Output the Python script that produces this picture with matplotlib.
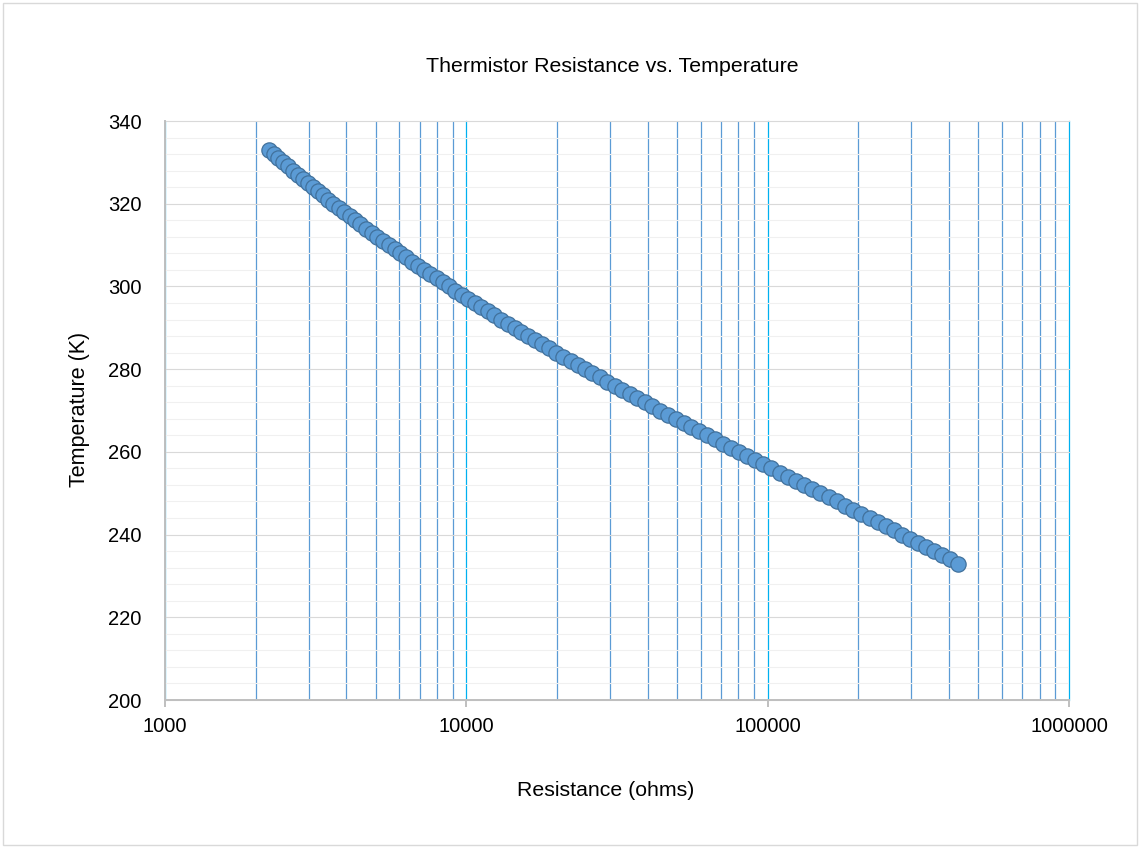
import matplotlib
matplotlib.use("Agg")
import matplotlib.pyplot as plt
from matplotlib.patches import Rectangle
from matplotlib.ticker import FixedLocator, FixedFormatter, MultipleLocator, LogLocator, NullFormatter

# data (ordered as drawn: hot -> cold)
temperature_k = [
    333, 332, 331, 330, 329, 328, 327, 326, 325, 324,
    323, 322, 321, 320, 319, 318, 317, 316, 315, 314,
    313, 312, 311, 310, 309, 308, 307, 306, 305, 304,
    303, 302, 301, 300, 299, 298, 297, 296, 295, 294,
    293, 292, 291, 290, 289, 288, 287, 286, 285, 284,
    283, 282, 281, 280, 279, 278, 277, 276, 275, 274,
    273, 272, 271, 270, 269, 268, 267, 266, 265, 264,
    263, 262, 261, 260, 259, 258, 257, 256, 255, 254,
    253, 252, 251, 250, 249, 248, 247, 246, 245, 244,
    243, 242, 241, 240, 239, 238, 237, 236, 235, 234,
    233,
]
resistance_ohms = [
    2215, 2296, 2380, 2468, 2560, 2657, 2758, 2865, 2976, 3093,
    3216, 3345, 3481, 3623, 3773, 3930, 4096, 4270, 4453, 4646,
    4849, 5063, 5289, 5526, 5777, 6041, 6320, 6615, 6925, 7254,
    7601, 7967, 8355, 8765, 9198, 9657, 10140, 10660, 11200, 11780,
    12390, 13040, 13730, 14460, 15230, 16060, 16930, 17860, 18840, 19890,
    21000, 22180, 23440, 24780, 26200, 27720, 29330, 31050, 32880, 34830,
    36900, 39120, 41470, 43990, 46660, 49520, 52570, 55810, 59280, 62970,
    66920, 71120, 75610, 80390, 85490, 90940, 96750, 102900, 109500, 116600,
    124100, 132100, 140600, 149700, 159400, 169700, 180700, 192400, 204800, 218000,
    232100, 247000, 262800, 279600, 297400, 316200, 336100, 357200, 379500, 403000,
    427800,
]

x_ticks = [1000, 10000, 100000, 1000000]
x_tick_labels = ["1000", "10000", "100000", "1000000"]
y_ticks = [200, 220, 240, 260, 280, 300, 320, 340]

plt.rcParams["font.family"] = ["Liberation Sans", "DejaVu Sans"]

fig = plt.figure(figsize=(11.4, 8.48), dpi=100)
fig.patch.set_facecolor("white")
fig.patches.append(Rectangle((0.003, 0.003), 0.994, 0.994, transform=fig.transFigure,
                             fill=False, edgecolor="#d9d9d9", lw=1))

ax = fig.add_axes([165 / 1140, 1 - 700 / 848, 904 / 1140, 579 / 848])
ax.set_xscale("log")
ax.set_xlim(1000, 1000000)
ax.set_ylim(200, 340)
ax.set_axisbelow(True)

# y axis: labels every 20, light lines every 4
ax.yaxis.set_major_locator(FixedLocator(y_ticks))
ax.yaxis.set_minor_locator(MultipleLocator(4))
ax.grid(which="minor", axis="y", color="#f0f0f0", lw=0.8)
ax.grid(which="major", axis="y", color="#d9d9d9", lw=0.8, clip_on=False)

# x axis: decades labelled, 2..9 as minor gridlines
ax.xaxis.set_major_locator(FixedLocator(x_ticks))
ax.xaxis.set_major_formatter(FixedFormatter(x_tick_labels))
ax.xaxis.set_minor_locator(LogLocator(base=10, subs=range(2, 10)))
ax.xaxis.set_minor_formatter(NullFormatter())
ax.grid(which="major", axis="x", color="#00b0f0", lw=0.9, clip_on=False)
ax.grid(which="minor", axis="x", color="#5b9bd5", lw=0.9)

for side in ["top", "right"]:
    ax.spines[side].set_visible(False)
for side in ["left", "bottom"]:
    ax.spines[side].set_color("#bfbfbf")
    ax.spines[side].set_linewidth(1.4)

ax.tick_params(axis="x", which="major", length=5, width=1.4, color="#bfbfbf",
               labelsize=14.5, pad=7)
ax.tick_params(axis="x", which="minor", length=0)
ax.tick_params(axis="y", which="both", length=0, labelsize=14.5, pad=17)

ax.plot(resistance_ohms, temperature_k, "o", ms=11, mfc="#5b9bd5", mec="#41719c",
        mew=0.9, clip_on=False)

fig.text(612 / 1140, 1 - 67 / 848, "Thermistor Resistance vs. Temperature",
         ha="center", va="center", fontsize=15.4)
fig.text(606 / 1140, 1 - 790 / 848, "Resistance (ohms)",
         ha="center", va="center", fontsize=15.3)
fig.text(80 / 1140, 1 - 409 / 848, "Temperature (K)",
         ha="center", va="center", rotation=90, fontsize=15.5)

fig.savefig("out.png", dpi=100)
